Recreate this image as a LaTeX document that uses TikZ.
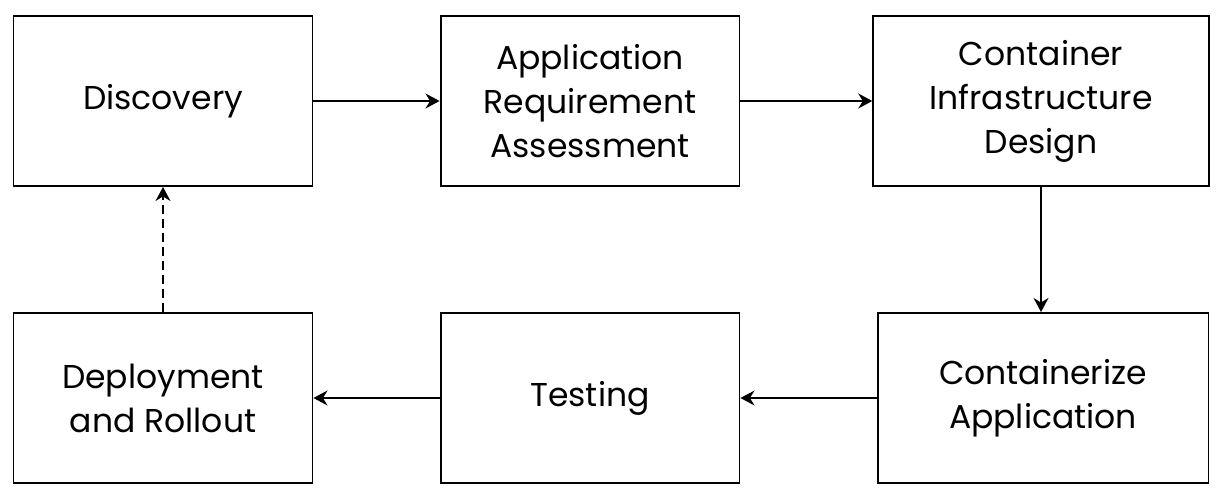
\documentclass[tikz,border=0pt]{standalone}
\usepackage{fontspec}
\setmainfont{Poppins}
\usetikzlibrary{arrows.meta}

\begin{document}
\begin{tikzpicture}[
        x=0.02cm, y=-0.02cm,
        stage/.style={
            rectangle,
            draw=black,
            fill=white,
            line width=1.1pt,
            minimum width=5.98cm,
            minimum height=3.4cm,
            inner sep=0pt,
            align=center,
            font=\fontsize{18.8}{25}\selectfont
        },
        flow/.style={-{Stealth[length=8pt,width=8.5pt]}, line width=1.1pt}
    ]

    \useasboundingbox (0,0) rectangle (1222,497);

    % Etapas
    \node[stage] (disc) at (163,101)   {Discovery};
    \node[stage] (req)  at (590,101)   {Application\\Requirement\\Assessment};
    \node[stage, minimum width=6.71cm] (infra) at (1041,101) {Container\\Infrastructure\\Design};
    \node[stage, minimum width=6.62cm] (cont)  at (1043,398) {Containerize\\Application};
    \node[stage] (test) at (590,398)   {Testing};
    \node[stage] (depl) at (163,398)   {Deployment\\and Rollout};

    % Flujo
    \draw[flow] (disc) -- (req);
    \draw[flow] (req) -- (infra);
    \draw[flow] (infra.south) -- (infra.south |- cont.north);
    \draw[flow] (cont) -- (test);
    \draw[flow] (test) -- (depl);
    \draw[flow, dash pattern=on 5pt off 3pt] (depl) -- (disc);

\end{tikzpicture}
\end{document}
